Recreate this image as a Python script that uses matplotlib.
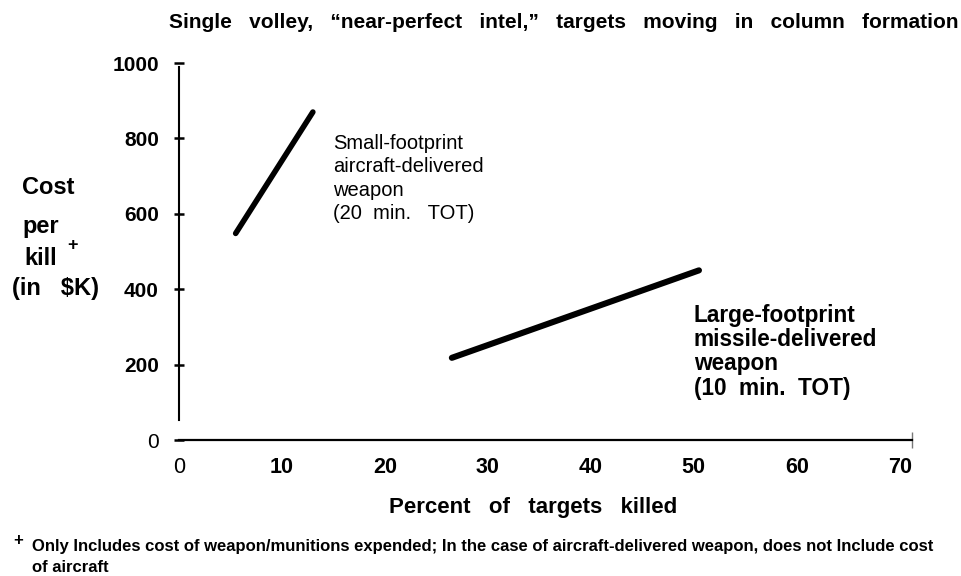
import matplotlib
matplotlib.use("Agg")
from matplotlib import pyplot as plt

# cost per kill ($K) against percent of targets killed
small_pct = [5.5, 13.0]
small_cost = [548, 870]
large_pct = [26.5, 50.5]
large_cost = [218, 450]

x_ticks = [0, 10, 20, 30, 40, 50, 60, 70]
y_ticks = [0, 200, 400, 600, 800, 1000]

SANS = ['Liberation Sans', 'DejaVu Sans']

fig = plt.figure(figsize=(9.62, 5.76), dpi=100)
ax = fig.add_axes([0.1861, 0.2361, 0.762, 0.6545])

ax.plot(small_pct, small_cost, color='black', lw=4.0, solid_capstyle='round')
ax.plot(large_pct, large_cost, color='black', lw=4.4, solid_capstyle='round')

ax.set_xlim(0, 71.2)
ax.set_ylim(0, 1000)
for side in ['top', 'right']:
    ax.spines[side].set_visible(False)
ax.spines['left'].set_bounds(53, 990)
ax.spines['left'].set_linewidth(1.5)
ax.spines['bottom'].set_linewidth(1.6)

ax.set_xticks(x_ticks)
ax.set_xticklabels([str(t) for t in x_ticks], family=SANS, fontsize=15.5,
                   fontweight='bold')
ax.get_xticklabels()[0].set_fontweight('normal')
ax.tick_params(axis='x', length=0, pad=12)
# small end mark on the x axis
ax.set_xticks([71.2], minor=True)
ax.tick_params(axis='x', which='minor', direction='inout', length=11,
               width=1, color='#777777')

ax.set_yticks(y_ticks)
ax.set_yticklabels([str(t) for t in y_ticks], family=SANS, fontsize=15,
                   fontweight='bold')
ax.get_yticklabels()[0].set_fontweight('normal')
ax.tick_params(axis='y', direction='inout', length=7, width=1.8, pad=11)

ax.text(15.0, 812, 'Small-footprint\naircraft-delivered\nweapon\n(20  min.   TOT)',
        family=SANS, fontsize=14.5, va='top', ha='left', linespacing=1.3)
ax.text(50.0, 360, 'Large-footprint\nmissile-delivered\nweapon\n(10  min.  TOT)',
        family=SANS, fontsize=16.3, fontweight='bold', va='top', ha='left',
        linespacing=1.06)


def px(x, y):
    return x / 962, 1 - y / 576


fig.text(*px(564, 22),
         'Single   volley,   \u201cnear-perfect   intel,\u201d   targets   moving   in   column   formation',
         family=SANS, fontsize=15, fontweight='bold', ha='center', va='center')

# stacked y-axis caption
for label, (x, y) in [('Cost', (22, 188)), ('per', (22, 227)),
                      ('kill', (24, 258)), ('(in   $K)', (12, 289))]:
    fig.text(*px(x, y), label, family=SANS, fontsize=17, fontweight='bold',
             ha='left', va='center')
fig.text(*px(67, 246), '+', family=SANS, fontsize=13, fontweight='bold',
         ha='left', va='center')

fig.text(*px(533, 508), 'Percent   of   targets   killed', family=SANS,
         fontsize=16, fontweight='bold', ha='center', va='center')

fig.text(*px(13, 540), '+', family=SANS, fontsize=12, fontweight='bold',
         ha='left', va='center')
fig.text(*px(32, 547),
         'Only Includes cost of weapon/munitions expended; In the case of '
         'aircraft-delivered weapon, does not Include cost',
         family=SANS, fontsize=12.0, fontweight='bold', ha='left', va='center')
fig.text(*px(32, 567), 'of aircraft', family=SANS, fontsize=12.0,
         fontweight='bold', ha='left', va='center')

fig.savefig('out.png', dpi=100)
